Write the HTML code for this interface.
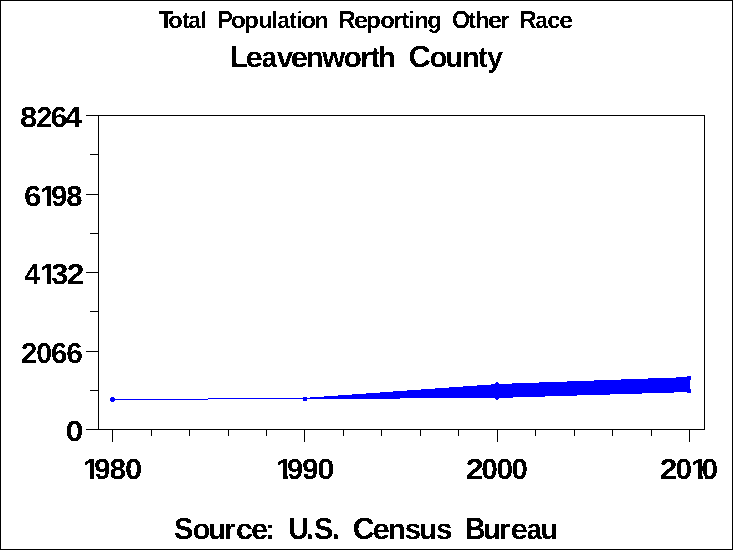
<!DOCTYPE html>
<html lang="en">
<head>
<meta charset="utf-8">
<title>Total Population Reporting Other Race - Leavenworth County</title>
<style>
html,body{margin:0;padding:0;background:#fff;}
body{width:733px;height:550px;overflow:hidden;}
svg{display:block;}
text{font-family:"Liberation Sans",sans-serif;font-weight:bold;text-rendering:geometricPrecision;fill:#000;white-space:pre;}
.ax{stroke:#000;stroke-width:1;fill:none;shape-rendering:crispEdges;}
.d{fill:#0000ff;stroke:none;shape-rendering:crispEdges;}
</style>
</head>
<body>
<svg width="733" height="550" viewBox="0 0 733 550">
<defs>
<clipPath id="c1"><rect x="0" y="11" width="733" height="17"/><rect x="244" y="28" width="6" height="8"/><rect x="366" y="28" width="6" height="8"/><rect x="427" y="28" width="14" height="8"/></clipPath>
<clipPath id="c2"><rect x="0" y="46" width="733" height="21"/><rect x="486" y="67" width="18" height="8"/></clipPath>
<clipPath id="c3"><rect x="0" y="518" width="733" height="21"/></clipPath>
<clipPath id="c4"><rect x="18.0" y="107" width="66.6" height="17"/><rect x="20.00" y="124" width="17.30" height="3"/><rect x="36.40" y="124" width="15.60" height="3"/><rect x="50.60" y="124" width="16.70" height="3"/><rect x="64.20" y="124" width="18.40" height="3"/></clipPath>
<clipPath id="c5"><rect x="22.0" y="186" width="62.8" height="17"/><rect x="24.00" y="203" width="17.10" height="3"/><rect x="46.66" y="203" width="4.54" height="3"/><rect x="54.60" y="203" width="12.70" height="3"/><rect x="66.40" y="203" width="16.40" height="3"/></clipPath>
<clipPath id="c6"><rect x="22.0" y="264" width="64.2" height="17"/><rect x="24.00" y="281" width="17.10" height="3"/><rect x="46.66" y="281" width="4.54" height="3"/><rect x="54.60" y="281" width="13.60" height="3"/><rect x="66.90" y="281" width="17.30" height="3"/></clipPath>
<clipPath id="c7"><rect x="19.1" y="343" width="65.7" height="17"/><rect x="21.10" y="360" width="16.20" height="3"/><rect x="36.40" y="360" width="15.60" height="3"/><rect x="51.10" y="360" width="16.20" height="3"/><rect x="66.40" y="360" width="16.40" height="3"/></clipPath>
<clipPath id="c8"><rect x="63.8" y="421" width="21.3" height="17"/><rect x="65.80" y="438" width="17.30" height="3"/></clipPath>
<clipPath id="c9"><rect x="82.0" y="459" width="62.0" height="17"/><rect x="89.67" y="476" width="4.63" height="3"/><rect x="97.70" y="476" width="12.70" height="3"/><rect x="109.50" y="476" width="16.70" height="3"/><rect x="125.30" y="476" width="16.70" height="3"/></clipPath>
<clipPath id="c10"><rect x="275.1" y="459" width="61.1" height="17"/><rect x="282.88" y="476" width="4.72" height="3"/><rect x="290.60" y="476" width="12.50" height="3"/><rect x="302.20" y="476" width="16.20" height="3"/><rect x="317.50" y="476" width="16.70" height="3"/></clipPath>
<clipPath id="c11"><rect x="464.0" y="459" width="65.9" height="17"/><rect x="466.00" y="476" width="17.60" height="3"/><rect x="481.60" y="476" width="16.20" height="3"/><rect x="496.90" y="476" width="16.20" height="3"/><rect x="511.90" y="476" width="16.00" height="3"/></clipPath>
<clipPath id="c12"><rect x="657.9" y="459" width="62.2" height="17"/><rect x="659.90" y="476" width="17.30" height="3"/><rect x="675.70" y="476" width="16.20" height="3"/><rect x="697.88" y="476" width="4.72" height="3"/><rect x="705.40" y="476" width="12.70" height="3"/></clipPath>
<filter id="bw" x="0" y="0" width="733" height="550" filterUnits="userSpaceOnUse" color-interpolation-filters="sRGB">
<feComponentTransfer><feFuncA type="discrete" tableValues="0 1"/></feComponentTransfer>
</filter>
</defs>
<rect x="0" y="0" width="733" height="550" fill="#fff"/>
<rect class="ax" x="0.5" y="0.5" width="732" height="549"/>

<g filter="url(#bw)">
<text y="28" font-size="24.75" clip-path="url(#c1)"><tspan x="158.66" textLength="14.81" lengthAdjust="spacingAndGlyphs">T</tspan><tspan x="168.06" font-size="23.2" textLength="14.81" lengthAdjust="spacingAndGlyphs">o</tspan><tspan x="182.22" font-size="23.2" textLength="7.35" lengthAdjust="spacingAndGlyphs">t</tspan><tspan x="188.39" font-size="23.2" textLength="12.22" lengthAdjust="spacingAndGlyphs">a</tspan><tspan x="201.11" font-size="23.2" textLength="5.56" lengthAdjust="spacingAndGlyphs">l</tspan> <tspan x="217.24" textLength="15.69" lengthAdjust="spacingAndGlyphs">P</tspan><tspan x="230.73" font-size="23.2" textLength="15.16" lengthAdjust="spacingAndGlyphs">o</tspan><tspan x="244.13" font-size="23.2" textLength="14.84" lengthAdjust="spacingAndGlyphs">p</tspan><tspan x="258.57" font-size="23.2" textLength="14.49" lengthAdjust="spacingAndGlyphs">u</tspan><tspan x="271.42" font-size="23.2" textLength="6.35" lengthAdjust="spacingAndGlyphs">l</tspan><tspan x="277.50" font-size="23.2" textLength="12.12" lengthAdjust="spacingAndGlyphs">a</tspan><tspan x="289.22" font-size="23.2" textLength="7.35" lengthAdjust="spacingAndGlyphs">t</tspan><tspan x="297.01" font-size="23.2" textLength="5.56" lengthAdjust="spacingAndGlyphs">i</tspan><tspan x="300.93" font-size="23.2" textLength="15.16" lengthAdjust="spacingAndGlyphs">o</tspan><tspan x="314.87" font-size="23.2" textLength="13.48" lengthAdjust="spacingAndGlyphs">n</tspan> <tspan x="338.21" textLength="17.30" lengthAdjust="spacingAndGlyphs">R</tspan><tspan x="353.92" font-size="23.2" textLength="13.96" lengthAdjust="spacingAndGlyphs">e</tspan><tspan x="366.13" font-size="23.2" textLength="14.84" lengthAdjust="spacingAndGlyphs">p</tspan><tspan x="380.16" font-size="23.2" textLength="14.69" lengthAdjust="spacingAndGlyphs">o</tspan><tspan x="393.59" font-size="23.2" textLength="8.47" lengthAdjust="spacingAndGlyphs">r</tspan><tspan x="401.87" font-size="23.2" textLength="7.35" lengthAdjust="spacingAndGlyphs">t</tspan><tspan x="408.52" font-size="23.2" textLength="6.35" lengthAdjust="spacingAndGlyphs">i</tspan><tspan x="414.34" font-size="23.2" textLength="14.74" lengthAdjust="spacingAndGlyphs">n</tspan><tspan x="427.17" font-size="23.2" textLength="14.54" lengthAdjust="spacingAndGlyphs">g</tspan> <tspan x="451.96" textLength="18.20" lengthAdjust="spacingAndGlyphs">O</tspan><tspan x="468.57" font-size="23.2" textLength="7.35" lengthAdjust="spacingAndGlyphs">t</tspan><tspan x="475.52" font-size="23.2" textLength="13.98" lengthAdjust="spacingAndGlyphs">h</tspan><tspan x="487.78" font-size="23.2" textLength="14.43" lengthAdjust="spacingAndGlyphs">e</tspan><tspan x="500.57" font-size="23.2" textLength="8.60" lengthAdjust="spacingAndGlyphs">r</tspan> <tspan x="519.21" textLength="17.30" lengthAdjust="spacingAndGlyphs">R</tspan><tspan x="535.39" font-size="23.2" textLength="12.22" lengthAdjust="spacingAndGlyphs">a</tspan><tspan x="547.19" font-size="23.2" textLength="13.08" lengthAdjust="spacingAndGlyphs">c</tspan><tspan x="559.34" font-size="23.2" textLength="13.73" lengthAdjust="spacingAndGlyphs">e</tspan></text>
<text y="67" font-size="30.6" clip-path="url(#c2)"><tspan x="229.98" textLength="17.93" lengthAdjust="spacingAndGlyphs">L</tspan><tspan x="245.64" font-size="28.7" textLength="17.42" lengthAdjust="spacingAndGlyphs">e</tspan><tspan x="261.69" font-size="28.7" textLength="15.14" lengthAdjust="spacingAndGlyphs">a</tspan><tspan x="276.84" font-size="28.7" textLength="16.38" lengthAdjust="spacingAndGlyphs">v</tspan><tspan x="290.85" font-size="28.7" textLength="17.30" lengthAdjust="spacingAndGlyphs">e</tspan><tspan x="306.11" font-size="28.7" textLength="17.47" lengthAdjust="spacingAndGlyphs">n</tspan><tspan x="322.20" font-size="28.7" textLength="22.98" lengthAdjust="spacingAndGlyphs">w</tspan><tspan x="343.80" font-size="28.7" textLength="18.16" lengthAdjust="spacingAndGlyphs">o</tspan><tspan x="359.84" font-size="28.7" textLength="12.64" lengthAdjust="spacingAndGlyphs">r</tspan><tspan x="370.69" font-size="28.7" textLength="9.08" lengthAdjust="spacingAndGlyphs">t</tspan><tspan x="378.08" font-size="28.7" textLength="17.72" lengthAdjust="spacingAndGlyphs">h</tspan> <tspan x="408.64" textLength="22.22" lengthAdjust="spacingAndGlyphs">C</tspan><tspan x="429.75" font-size="28.7" textLength="17.59" lengthAdjust="spacingAndGlyphs">o</tspan><tspan x="445.47" font-size="28.7" textLength="17.28" lengthAdjust="spacingAndGlyphs">u</tspan><tspan x="461.98" font-size="28.7" textLength="17.72" lengthAdjust="spacingAndGlyphs">n</tspan><tspan x="478.29" font-size="28.7" textLength="9.08" lengthAdjust="spacingAndGlyphs">t</tspan><tspan x="487.05" font-size="28.7" textLength="16.07" lengthAdjust="spacingAndGlyphs">y</tspan></text>
<text y="539" font-size="30.6" clip-path="url(#c3)"><tspan x="173.96" textLength="19.23" lengthAdjust="spacingAndGlyphs">S</tspan><tspan x="192.85" font-size="28.7" textLength="17.47" lengthAdjust="spacingAndGlyphs">o</tspan><tspan x="208.36" font-size="28.7" textLength="17.41" lengthAdjust="spacingAndGlyphs">u</tspan><tspan x="223.70" font-size="28.7" textLength="11.75" lengthAdjust="spacingAndGlyphs">r</tspan><tspan x="235.75" font-size="28.7" textLength="17.30" lengthAdjust="spacingAndGlyphs">c</tspan><tspan x="251.05" font-size="28.7" textLength="17.19" lengthAdjust="spacingAndGlyphs">e</tspan><tspan x="265.04" font-size="28.7" textLength="10.28" lengthAdjust="spacingAndGlyphs">:</tspan> <tspan x="288.27" textLength="20.56" lengthAdjust="spacingAndGlyphs">U</tspan><tspan x="306.37" textLength="7.37" lengthAdjust="spacingAndGlyphs">.</tspan><tspan x="313.96" textLength="19.23" lengthAdjust="spacingAndGlyphs">S</tspan><tspan x="332.37" textLength="7.37" lengthAdjust="spacingAndGlyphs">.</tspan> <tspan x="352.66" textLength="21.89" lengthAdjust="spacingAndGlyphs">C</tspan><tspan x="372.54" font-size="28.7" textLength="17.42" lengthAdjust="spacingAndGlyphs">e</tspan><tspan x="387.85" font-size="28.7" textLength="17.98" lengthAdjust="spacingAndGlyphs">n</tspan><tspan x="404.87" font-size="28.7" textLength="16.43" lengthAdjust="spacingAndGlyphs">s</tspan><tspan x="419.36" font-size="28.7" textLength="17.41" lengthAdjust="spacingAndGlyphs">u</tspan><tspan x="435.97" font-size="28.7" textLength="16.49" lengthAdjust="spacingAndGlyphs">s</tspan> <tspan x="465.18" textLength="20.16" lengthAdjust="spacingAndGlyphs">B</tspan><tspan x="482.81" font-size="28.7" textLength="17.91" lengthAdjust="spacingAndGlyphs">u</tspan><tspan x="498.84" font-size="28.7" textLength="11.49" lengthAdjust="spacingAndGlyphs">r</tspan><tspan x="510.63" font-size="28.7" textLength="17.54" lengthAdjust="spacingAndGlyphs">e</tspan><tspan x="526.79" font-size="28.7" textLength="15.14" lengthAdjust="spacingAndGlyphs">a</tspan><tspan x="540.45" font-size="28.7" textLength="17.53" lengthAdjust="spacingAndGlyphs">u</tspan></text>
<g font-size="29.0">
<text y="127" clip-path="url(#c4)"><tspan x="19.93" textLength="17.33" lengthAdjust="spacingAndGlyphs">8</tspan><tspan x="36.43" textLength="15.68" lengthAdjust="spacingAndGlyphs">2</tspan><tspan x="50.55" textLength="16.95" lengthAdjust="spacingAndGlyphs">6</tspan><tspan x="64.67" textLength="17.08" lengthAdjust="spacingAndGlyphs">4</tspan></text>
<text y="206" clip-path="url(#c5)"><tspan x="23.92" textLength="17.41" lengthAdjust="spacingAndGlyphs">6</tspan><tspan x="40.09" textLength="16.39" lengthAdjust="spacingAndGlyphs">1</tspan><tspan x="51.09" textLength="16.37" lengthAdjust="spacingAndGlyphs">9</tspan><tspan x="66.39" textLength="16.31" lengthAdjust="spacingAndGlyphs">8</tspan></text>
<text y="284" clip-path="url(#c6)"><tspan x="24.51" textLength="15.72" lengthAdjust="spacingAndGlyphs">4</tspan><tspan x="40.09" textLength="16.39" lengthAdjust="spacingAndGlyphs">1</tspan><tspan x="51.31" textLength="17.10" lengthAdjust="spacingAndGlyphs">3</tspan><tspan x="66.81" textLength="17.64" lengthAdjust="spacingAndGlyphs">2</tspan></text>
<text y="363" clip-path="url(#c7)"><tspan x="21.09" textLength="16.37" lengthAdjust="spacingAndGlyphs">2</tspan><tspan x="36.16" textLength="15.96" lengthAdjust="spacingAndGlyphs">0</tspan><tspan x="51.09" textLength="16.37" lengthAdjust="spacingAndGlyphs">6</tspan><tspan x="66.37" textLength="16.60" lengthAdjust="spacingAndGlyphs">6</tspan></text>
<text y="441" clip-path="url(#c8)"><tspan x="65.41" textLength="17.96" lengthAdjust="spacingAndGlyphs">0</tspan></text>
<text y="479" clip-path="url(#c9)"><tspan x="82.94" textLength="16.76" lengthAdjust="spacingAndGlyphs">1</tspan><tspan x="94.19" textLength="16.37" lengthAdjust="spacingAndGlyphs">9</tspan><tspan x="109.47" textLength="16.65" lengthAdjust="spacingAndGlyphs">8</tspan><tspan x="124.96" textLength="17.26" lengthAdjust="spacingAndGlyphs">0</tspan></text>
<text y="479" clip-path="url(#c10)"><tspan x="276.00" textLength="17.13" lengthAdjust="spacingAndGlyphs">1</tspan><tspan x="287.10" textLength="16.14" lengthAdjust="spacingAndGlyphs">9</tspan><tspan x="302.19" textLength="16.37" lengthAdjust="spacingAndGlyphs">9</tspan><tspan x="317.16" textLength="17.26" lengthAdjust="spacingAndGlyphs">0</tspan></text>
<text y="479" clip-path="url(#c11)"><tspan x="465.89" textLength="17.99" lengthAdjust="spacingAndGlyphs">2</tspan><tspan x="481.31" textLength="16.67" lengthAdjust="spacingAndGlyphs">0</tspan><tspan x="496.61" textLength="16.67" lengthAdjust="spacingAndGlyphs">0</tspan><tspan x="511.63" textLength="16.43" lengthAdjust="spacingAndGlyphs">0</tspan></text>
<text y="479" clip-path="url(#c12)"><tspan x="659.81" textLength="17.64" lengthAdjust="spacingAndGlyphs">2</tspan><tspan x="675.41" textLength="16.67" lengthAdjust="spacingAndGlyphs">0</tspan><tspan x="691.00" textLength="17.13" lengthAdjust="spacingAndGlyphs">1</tspan><tspan x="701.61" textLength="16.67" lengthAdjust="spacingAndGlyphs">0</tspan></text>
</g>
</g>
<g class="ax">
<rect x="98.5" y="115.5" width="606" height="314"/>
</g>
<g fill="#000" shape-rendering="crispEdges">
<rect x="86" y="115" width="12" height="1"/>
<rect x="90" y="154" width="8" height="1"/>
<rect x="86" y="194" width="12" height="1"/>
<rect x="90" y="233" width="8" height="1"/>
<rect x="86" y="272" width="12" height="1"/>
<rect x="90" y="311" width="8" height="1"/>
<rect x="86" y="351" width="12" height="1"/>
<rect x="90" y="390" width="8" height="1"/>
<rect x="86" y="429" width="12" height="1"/>
<rect x="112" y="430" width="1" height="12"/>
<rect x="151" y="430" width="1" height="6"/>
<rect x="189" y="430" width="1" height="6"/>
<rect x="228" y="430" width="1" height="6"/>
<rect x="266" y="430" width="1" height="6"/>
<rect x="304" y="430" width="1" height="12"/>
<rect x="343" y="430" width="1" height="6"/>
<rect x="381" y="430" width="1" height="6"/>
<rect x="420" y="430" width="1" height="6"/>
<rect x="458" y="430" width="1" height="6"/>
<rect x="497" y="430" width="1" height="12"/>
<rect x="535" y="430" width="1" height="6"/>
<rect x="574" y="430" width="1" height="6"/>
<rect x="612" y="430" width="1" height="6"/>
<rect x="651" y="430" width="1" height="6"/>
<rect x="689" y="430" width="1" height="12"/>
</g>
<g class="d">
<rect x="112" y="399" width="96" height="1"/>
<rect x="208" y="398" width="97" height="1"/>
<rect x="111" y="397" width="3" height="5"/>
<rect x="110" y="398" width="5" height="3"/>
<rect x="303" y="397" width="4" height="4"/>
<polygon points="304,397.94 497,384.07 690,376.98 690,392 497,398 304,399"/>
<rect x="496" y="382" width="2" height="18"/>
<rect x="495" y="383" width="4" height="16"/>
<rect x="687" y="376" width="4" height="4"/>
<rect x="687" y="389" width="4" height="4"/>
</g>
</svg>
</body>
</html>
